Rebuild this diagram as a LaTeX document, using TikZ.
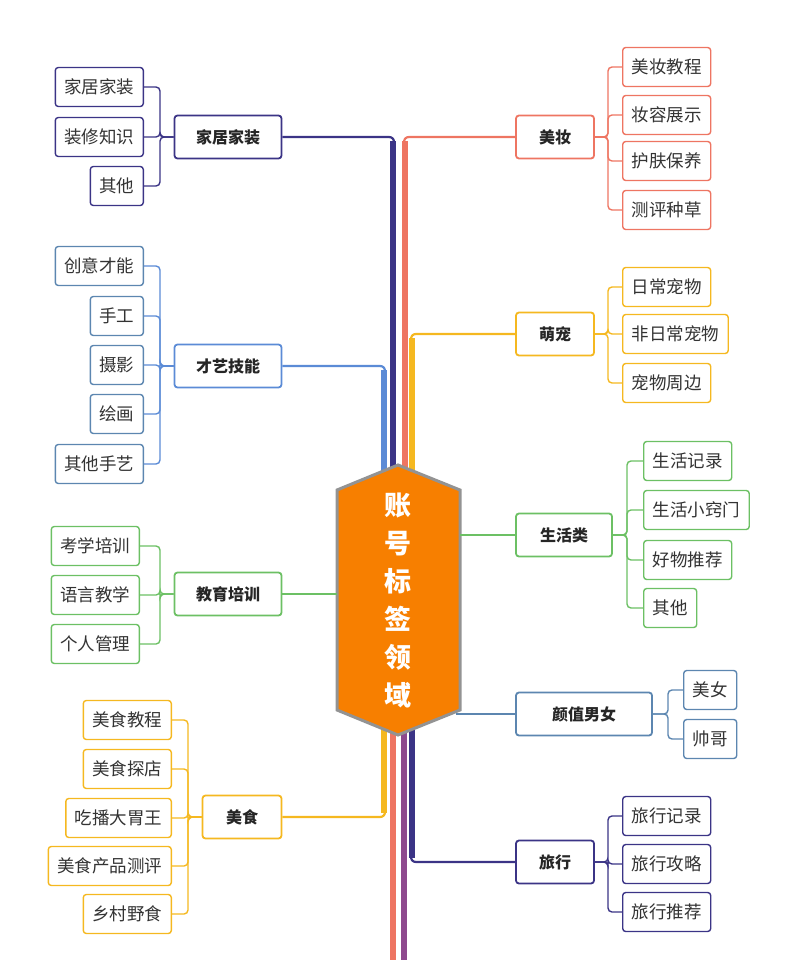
\documentclass[tikz,border=0pt]{standalone}
\usepackage{fontspec}
\setmainfont{Noto Sans CJK SC}
\begin{document}
\begin{tikzpicture}[x=1pt,y=-1pt,
  child/.style={draw=#1,line width=1.4pt,rounded corners=3pt,fill=white,minimum height=39pt,inner xsep=9pt,font=\fontsize{17.5}{17.5}\selectfont,text=black!80},
  mainb/.style={draw=#1,line width=1.8pt,rounded corners=3pt,fill=white,minimum height=43pt,inner xsep=9pt,font=\bfseries\fontsize{16}{16}\selectfont,text=black!85},
  br/.style={draw=#1,line width=1.4pt,rounded corners=4pt},
  thin/.style={draw=#1,line width=2.2pt},
  trunk/.style={draw=#1,line width=6pt}]
\definecolor{navy}{HTML}{3B3486}
\definecolor{salmon}{HTML}{EE7562}
\definecolor{blu}{HTML}{5B8BD6}
\definecolor{yel}{HTML}{F5B820}
\definecolor{grn}{HTML}{6CC064}
\definecolor{steel}{HTML}{5C86B0}
\definecolor{purp}{HTML}{8E4A8E}
\definecolor{orng}{HTML}{F77F00}
\useasboundingbox (0,0) rectangle (800,960);
% left mains
\node[mainb=navy,minimum width=107pt] (m1) at (228,137) {家居家装};
\node[mainb=blu,minimum width=107pt] (m2) at (228,366) {才艺技能};
\node[mainb=grn,minimum width=107pt] (m3) at (228,594) {教育培训};
\node[mainb=yel,minimum width=79pt] (m4) at (242,817) {美食};
% right mains
\node[mainb=salmon,minimum width=78pt] (r1) at (555,137) {美妆};
\node[mainb=yel,minimum width=78pt] (r2) at (555,334) {萌宠};
\node[mainb=grn,minimum width=96pt] (r3) at (564,535) {生活类};
\node[mainb=steel,minimum width=136pt] (r4) at (584,714) {颜值男女};
\node[mainb=navy,minimum width=78pt] (r5) at (555,862) {旅行};
% trunk coordinates
\coordinate (t1) at (393,137); \coordinate (t1b) at (393,480);
\coordinate (t2) at (405,137); \coordinate (t2b) at (405,480);
\coordinate (t3) at (384,366); \coordinate (t3b) at (384,480);
\coordinate (t4) at (412,334); \coordinate (t4b) at (412,480);
\coordinate (t5) at (384,817); \coordinate (t5b) at (384,720);
\coordinate (t6) at (393,720); \coordinate (t6b) at (393,960);
\coordinate (t7) at (404,720); \coordinate (t7b) at (404,960);
\coordinate (t8) at (412,862); \coordinate (t8b) at (412,720);
\draw[thin=navy,rounded corners=6pt] (m1.east) -- ([xshift=2pt]t1) -- ([yshift=-10pt]t1);
\draw[trunk=navy] ([yshift=-4pt]t1) -- (t1b);
\draw[thin=salmon,rounded corners=6pt] (r1.west) -- ([xshift=-2pt]t2) -- ([yshift=-10pt]t2);
\draw[trunk=salmon] ([yshift=-4pt]t2) -- (t2b);
\draw[thin=blu,rounded corners=6pt] (m2.east) -- ([xshift=2pt]t3) -- ([yshift=-10pt]t3);
\draw[trunk=blu] ([yshift=-4pt]t3) -- (t3b);
\draw[thin=yel,rounded corners=6pt] (r2.west) -- ([xshift=-2pt]t4) -- ([yshift=-10pt]t4);
\draw[trunk=yel] ([yshift=-4pt]t4) -- (t4b);
\draw[thin=yel,rounded corners=6pt] (m4.east) -- ([xshift=2pt]t5) -- ([yshift=10pt]t5);
\draw[trunk=yel] ([yshift=4pt]t5) -- (t5b);
\draw[trunk=salmon] (t6) -- (t6b);
\draw[trunk=purp] (t7) -- (t7b);
\draw[thin=navy,rounded corners=6pt] (r5.west) -- ([xshift=-2pt]t8) -- ([yshift=10pt]t8);
\draw[trunk=navy] ([yshift=4pt]t8) -- (t8b);
% hexagon
\draw[fill=orng,draw=gray!85,line width=3pt] (337,490) -- (398,465) -- (460,490) -- (460,710) -- (398,735) -- (337,710) -- cycle;
\node[text=white,font=\bfseries\fontsize{27}{38}\selectfont,align=center] (hub) at (398,600) {账\\号\\标\\签\\领\\域};
\coordinate (h1) at (460,535); \coordinate (h2) at (337,594); \coordinate (h3) at (456,714);
\draw[thin=grn] (h1) -- (r3.west);
\draw[thin=grn] (h2) -- (m3.east);
\draw[thin=steel] (h3) -- (r4.west);
% left children
\foreach \n/\t/\y/\x/\c in {a1/家居家装/87/144/navy,a2/装修知识/137/144/navy,a3/其他/186/144/navy,
  b1/创意才能/266/144/steel,b2/手工/316/144/steel,b3/摄影/365/144/steel,b4/绘画/414/144/steel,b5/其他手艺/464/144/steel,
  c1/考学培训/546/140/grn,c2/语言教学/595/140/grn,c3/个人管理/644/140/grn,
  d1/美食教程/720/172/yel,d2/美食探店/769/172/yel,d3/吃播大胃王/818/172/yel,d4/美食产品测评/866/172/yel,d5/乡村野食/914/172/yel}
  \node[child=\c,anchor=east] (\n) at (\x,\y) {\t};
% right children
\foreach \n/\t/\y/\x/\c in {e1/美妆教程/67/622/salmon,e2/妆容展示/115/622/salmon,e3/护肤保养/161/622/salmon,e4/测评种草/210/622/salmon,
  f1/日常宠物/287/622/yel,f2/非日常宠物/334/622/yel,f3/宠物周边/383/622/yel,
  g1/生活记录/461/643/grn,g2/生活小窍门/510/643/grn,g3/好物推荐/560/643/grn,g4/其他/608/643/grn,
  h1/美女/690/683/steel,h2/帅哥/739/683/steel,
  i1/旅行记录/816/622/navy,i2/旅行攻略/864/622/navy,i3/旅行推荐/912/622/navy}
  \node[child=\c,anchor=west] (\n) at (\x,\y) {\t};
% brackets
\coordinate (ka) at (160,137); \coordinate (kb) at (160,366); \coordinate (kc) at (160,594); \coordinate (kd) at (188,817);
\coordinate (ke) at (608,137); \coordinate (kf) at (608,334); \coordinate (kg) at (627,535); \coordinate (kh) at (668,714); \coordinate (ki) at (608,862);
\foreach \m/\k/\c/\l in {m1/ka/navy/{a1,a2,a3},m2/kb/blu/{b1,b2,b3,b4,b5},m3/kc/grn/{c1,c2,c3},m4/kd/yel/{d1,d2,d3,d4,d5}}
  \foreach \ch in \l \draw[br=\c] (\m.west) -- (\k) |- (\ch.east);
\foreach \m/\k/\c/\l in {r1/ke/salmon/{e1,e2,e3,e4},r2/kf/yel/{f1,f2,f3},r3/kg/grn/{g1,g2,g3,g4},r4/kh/steel/{h1,h2},r5/ki/navy/{i1,i2,i3}}
  \foreach \ch in \l \draw[br=\c] (\m.east) -- (\k) |- (\ch.west);
\end{tikzpicture}
\end{document}
